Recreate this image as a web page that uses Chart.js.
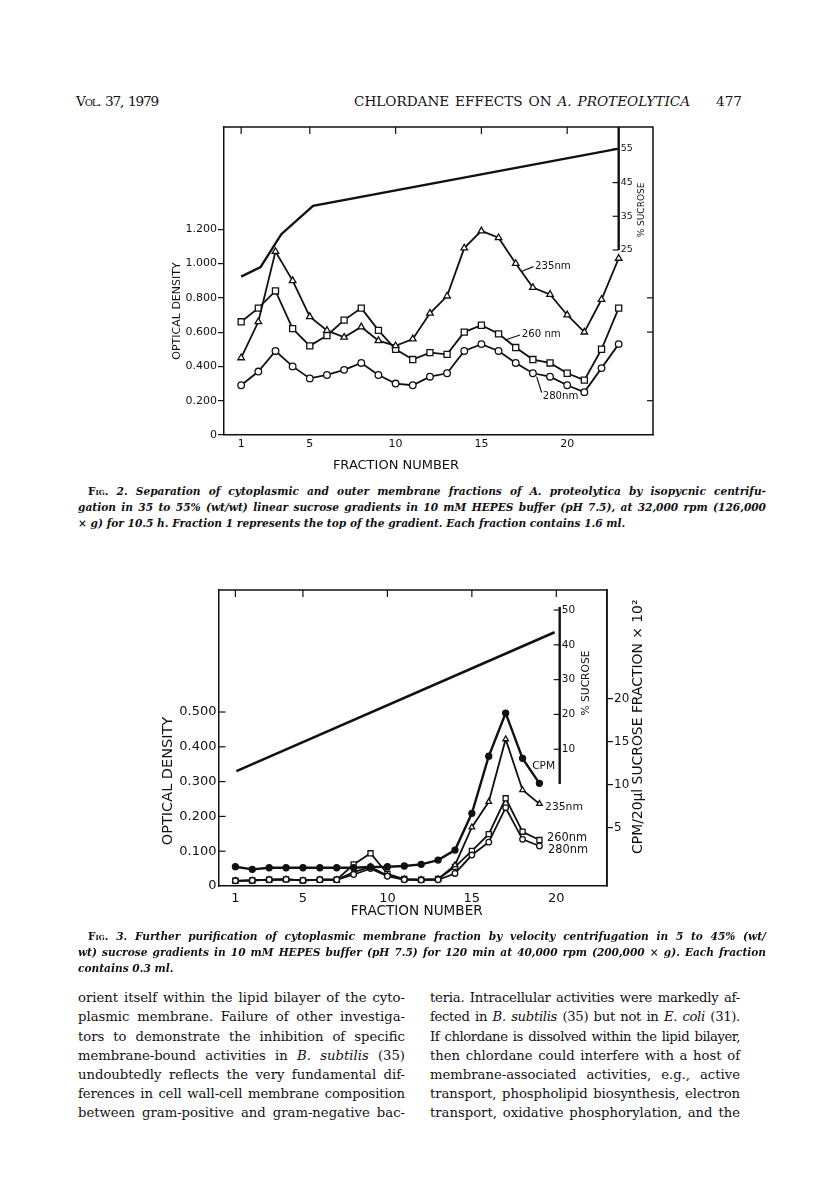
<!DOCTYPE html>
<html>
<head>
<meta charset="utf-8">
<script src="https://cdn.jsdelivr.net/npm/chart.js"></script>
<style>
html, body { margin: 0; padding: 0; background: #fff; }
body { width: 816px; height: 1195px; position: relative; overflow: hidden; color: #111; font-family: 'DejaVu Serif', serif; }
.ln { position: absolute; white-space: nowrap; }
.hd { font-size: 13.6px; line-height: 16px; }
.cap { font-size: 10.6px; line-height: 16px; font-style: italic; font-weight: bold; }
.txt { font-size: 13.2px; line-height: 19px; }
.sc { font-variant: small-caps; font-style: normal; }
canvas { position: absolute; }
#fig2 { left: 130px; top: 110px; }
#fig3 { left: 130px; top: 575px; }
</style>
</head>
<body>

<div class="ln hd fit" data-w="82" style="left:76px;top:93px"><span class="sc">Vol.</span> 37, 1979</div>
<div class="ln hd fit" data-w="336" style="left:354px;top:93px">CHLORDANE EFFECTS ON <i>A. PROTEOLYTICA</i></div>
<div class="ln hd" style="left:716px;top:93px">477</div>

<canvas id="fig2" width="560" height="370"></canvas>

<div class="ln cap fit" data-w="678" style="left:88px;top:483px"><span class="sc">Fig.</span> 2. Separation of cytoplasmic and outer membrane fractions of A. proteolytica by isopycnic centrifu-</div>
<div class="ln cap fit" data-w="688" style="left:78px;top:499px">gation in 35 to 55% (wt/wt) linear sucrose gradients in 10 mM HEPES buffer (pH 7.5), at 32,000 rpm (126,000</div>
<div class="ln cap" style="left:78px;top:515px">× g) for 10.5 h. Fraction 1 represents the top of the gradient. Each fraction contains 1.6 ml.</div>

<canvas id="fig3" width="560" height="355"></canvas>

<div class="ln cap fit" data-w="678" style="left:88px;top:928px"><span class="sc">Fig.</span> 3. Further purification of cytoplasmic membrane fraction by velocity centrifugation in 5 to 45% (wt/</div>
<div class="ln cap fit" data-w="688" style="left:78px;top:944px">wt) sucrose gradients in 10 mM HEPES buffer (pH 7.5) for 120 min at 40,000 rpm (200,000 × g). Each fraction</div>
<div class="ln cap" style="left:78px;top:960px">contains 0.3 ml.</div>

<div class="ln txt fit" data-w="327" style="left:78px;top:988px">orient itself within the lipid bilayer of the cyto-</div>
<div class="ln txt fit" data-w="327" style="left:78px;top:1007px">plasmic membrane. Failure of other investiga-</div>
<div class="ln txt fit" data-w="327" style="left:78px;top:1027px">tors to demonstrate the inhibition of specific</div>
<div class="ln txt fit" data-w="327" style="left:78px;top:1046px">membrane-bound activities in <i>B. subtilis</i> (35)</div>
<div class="ln txt fit" data-w="327" style="left:78px;top:1065px">undoubtedly reflects the very fundamental dif-</div>
<div class="ln txt fit" data-w="327" style="left:78px;top:1084px">ferences in cell wall-cell membrane composition</div>
<div class="ln txt fit" data-w="327" style="left:78px;top:1103px">between gram-positive and gram-negative bac-</div>

<div class="ln txt fit" data-w="310" style="left:430px;top:988px">teria. Intracellular activities were markedly af-</div>
<div class="ln txt fit" data-w="310" style="left:430px;top:1007px">fected in <i>B. subtilis</i> (35) but not in <i>E. coli</i> (31).</div>
<div class="ln txt fit" data-w="310" style="left:430px;top:1027px">If chlordane is dissolved within the lipid bilayer,</div>
<div class="ln txt fit" data-w="310" style="left:430px;top:1046px">then chlordane could interfere with a host of</div>
<div class="ln txt fit" data-w="310" style="left:430px;top:1065px">membrane-associated activities, e.g., active</div>
<div class="ln txt fit" data-w="310" style="left:430px;top:1084px">transport, phospholipid biosynthesis, electron</div>
<div class="ln txt fit" data-w="310" style="left:430px;top:1103px">transport, oxidative phosphorylation, and the</div>

<script>
// FIG. 2 - isopycnic gradient, fractions 1-23
const fractions2 = [1, 2, 3, 4, 5, 6, 7, 8, 9, 10, 11, 12, 13, 14, 15, 16, 17, 18, 19, 20, 21, 22, 23];
const od235a = [0.45, 0.66, 1.07, 0.90, 0.69, 0.61, 0.57, 0.63, 0.55, 0.52, 0.56, 0.71, 0.81, 1.09, 1.19, 1.15, 1.00, 0.86, 0.82, 0.70, 0.60, 0.79, 1.03];
const od260a = [0.66, 0.74, 0.84, 0.62, 0.52, 0.58, 0.67, 0.74, 0.61, 0.50, 0.44, 0.48, 0.47, 0.60, 0.64, 0.59, 0.51, 0.44, 0.42, 0.36, 0.32, 0.50, 0.74];
const od280a = [0.29, 0.37, 0.49, 0.40, 0.33, 0.35, 0.38, 0.42, 0.35, 0.30, 0.29, 0.34, 0.36, 0.49, 0.53, 0.49, 0.42, 0.36, 0.34, 0.29, 0.25, 0.39, 0.53];
const sucroseX2 = [1, 2.13, 3.34, 5.19, 22.93];
const sucroseY2 = [17.1, 19.9, 29.7, 38.1, 55];
const odTicks2 = [0, 0.2, 0.4, 0.6, 0.8, 1.0, 1.2];
const sucroseTicks2 = [25, 35, 45, 55];

// FIG. 3 - velocity gradient, fractions 1-19
const fractions3 = [1, 2, 3, 4, 5, 6, 7, 8, 9, 10, 11, 12, 13, 14, 15, 16, 17, 18, 19];
const cpm3 = [0.48, 0.17, 0.36, 0.36, 0.36, 0.36, 0.36, 0.36, 0.45, 0.48, 0.56, 0.75, 1.25, 2.41, 6.67, 13.3, 18.3, 13.05, 10.15];
const od235b = [0.015, 0.016, 0.018, 0.019, 0.016, 0.018, 0.018, 0.040, 0.055, 0.030, 0.020, 0.018, 0.020, 0.060, 0.169, 0.242, 0.422, 0.276, 0.236];
const od260b = [0.015, 0.016, 0.018, 0.019, 0.016, 0.018, 0.018, 0.062, 0.094, 0.035, 0.020, 0.018, 0.020, 0.055, 0.101, 0.149, 0.252, 0.156, 0.132];
const od280b = [0.015, 0.016, 0.018, 0.019, 0.016, 0.018, 0.018, 0.033, 0.050, 0.028, 0.018, 0.017, 0.018, 0.036, 0.089, 0.126, 0.225, 0.134, 0.115];
const sucroseX3 = [1.06, 19.9];
const sucroseY3 = [3.7, 43.6];
const odTicks3 = [0, 0.1, 0.2, 0.3, 0.4, 0.5];
const sucroseTicks3 = [10, 20, 30, 40, 50];
const cpmTicks3 = [5, 10, 15, 20];

const xTicks = [1, 5, 10, 15, 20];

const ink = '#111';
const sans = '"DejaVu Sans", sans-serif';

function pts(xs, ys) {
    return xs.map((x, i) => ({ x: x, y: ys[i] }));
}

function series(data, style, radius, extra) {
    return Object.assign({
        data: data,
        borderColor: ink,
        borderWidth: 1.8,
        pointStyle: style,
        pointRadius: radius,
        pointBorderColor: ink,
        pointBackgroundColor: '#fff',
        pointBorderWidth: 1.3,
        tension: 0
    }, extra || {});
}

function setTicks(list) {
    return s => { s.ticks = list.map(v => ({ value: v })); };
}

function odLabel(v) {
    return v === 0 ? '0' : v.toFixed(3);
}

// frame, inner ticks, sucrose axis, curve labels and axis titles
function extras(cfg) {
    return {
        id: 'extras',
        afterDatasetsDraw(chart) {
            const { ctx, chartArea: a, scales } = chart;
            const x = scales.x, y = scales.y, ys = scales.ys;
            const line = (x1, y1, x2, y2) => { ctx.beginPath(); ctx.moveTo(x1, y1); ctx.lineTo(x2, y2); ctx.stroke(); };
            ctx.save();
            ctx.strokeStyle = ink;
            ctx.fillStyle = ink;
            ctx.lineWidth = 1.5;
            ctx.beginPath();
            ctx.moveTo(a.left, a.top);
            ctx.lineTo(a.right, a.top);
            ctx.lineTo(a.right, a.bottom);
            ctx.stroke();

            ctx.lineWidth = 1.2;
            xTicks.forEach(v => { const px = x.getPixelForValue(v); line(px, a.top, px, a.top + 7); });
            (cfg.rightTicks || []).forEach(v => { const py = y.getPixelForValue(v); line(a.right - 6, py, a.right, py); });
            (cfg.leftTicks || []).forEach(v => { const py = y.getPixelForValue(v); line(a.left, py, a.left + 7, py); });

            const s = cfg.sucrose;
            const sx = x.getPixelForValue(s.at);
            ctx.lineWidth = 2.4;
            line(sx, ys.getPixelForValue(s.from), sx, Math.max(a.top, ys.getPixelForValue(s.to)));
            ctx.lineWidth = 1.2;
            ctx.font = s.size + 'px ' + sans;
            ctx.textAlign = 'left';
            ctx.textBaseline = 'middle';
            s.ticks.forEach(v => {
                const py = ys.getPixelForValue(v);
                line(sx - 6, py, sx, py);
                ctx.fillText(String(v), sx + 2, py);
            });

            (cfg.leaders || []).forEach(l => {
                line(x.getPixelForValue(l[0]), y.getPixelForValue(l[1]), x.getPixelForValue(l[2]), y.getPixelForValue(l[3]));
            });
            cfg.labels.forEach(l => {
                ctx.font = l.size + 'px ' + sans;
                ctx.fillText(l.text, x.getPixelForValue(l.x), y.getPixelForValue(l.y));
            });

            ctx.textAlign = 'center';
            cfg.titles.forEach(t => {
                ctx.save();
                ctx.translate(t.x - cfg.offset[0], t.y - cfg.offset[1]);
                ctx.rotate(t.rot || 0);
                ctx.font = t.size + 'px ' + sans;
                ctx.fillText(t.text, 0, 0);
                ctx.restore();
            });
            ctx.restore();
        }
    };
}

const tickFont = size => ({ family: sans, size: size });

// Fig. 2
new Chart(document.getElementById('fig2'), {
    type: 'line',
    data: {
        datasets: [
            series(pts(sucroseX2, sucroseY2), 'circle', 0, { yAxisID: 'ys', borderWidth: 2.4, order: 4 }),
            series(pts(fractions2, od280a), 'circle', 3.3, { order: 3 }),
            series(pts(fractions2, od260a), 'rect', 4.3, { order: 2 }),
            series(pts(fractions2, od235a), 'triangle', 3.8, { order: 1 })
        ]
    },
    options: {
        responsive: false,
        animation: false,
        layout: { padding: { top: 17, right: 37, left: 0, bottom: 0 } },
        plugins: { legend: { display: false }, tooltip: { enabled: false } },
        scales: {
            x: {
                type: 'linear', min: 0, max: 25,
                afterBuildTicks: setTicks(xTicks),
                afterFit: s => { s.height = 45; },
                grid: { drawOnChartArea: false, drawTicks: false },
                border: { color: ink, width: 1.5 },
                ticks: { color: ink, font: tickFont(11), padding: 3, maxRotation: 0, autoSkip: false }
            },
            y: {
                min: 0, max: 1.796,
                afterBuildTicks: setTicks(odTicks2),
                afterFit: s => { s.width = 94; },
                grid: { drawOnChartArea: false, tickLength: 6, color: ink, lineWidth: 1.2 },
                border: { color: ink, width: 1.5 },
                ticks: { color: ink, font: tickFont(11), padding: 1, callback: odLabel }
            },
            ys: { display: false, position: 'right', min: -29.9, max: 61.5 }
        }
    },
    plugins: [extras({
        offset: [130, 110],
        rightTicks: [0.2, 0.6, 0.8],
        sucrose: { at: 23, from: 25, to: 70, ticks: sucroseTicks2, size: 9.4 },
        leaders: [[17.29, 0.952, 18.03, 0.982], [16.38, 0.554, 17.25, 0.583], [18.22, 0.340, 18.51, 0.247]],
        labels: [
            { text: '235nm', x: 18.12, y: 0.985, size: 10.2 },
            { text: '260 nm', x: 17.35, y: 0.589, size: 10.2 },
            { text: '280nm', x: 18.57, y: 0.227, size: 10.2 }
        ],
        titles: [
            { text: 'OPTICAL DENSITY', x: 176.7, y: 311, rot: -Math.PI / 2, size: 11 },
            { text: 'FRACTION NUMBER', x: 396, y: 466, size: 13 },
            { text: '% SUCROSE', x: 641.7, y: 210, rot: -Math.PI / 2, size: 9 }
        ]
    })]
});

// Fig. 3
new Chart(document.getElementById('fig3'), {
    type: 'line',
    data: {
        datasets: [
            series(pts(sucroseX3, sucroseY3), 'circle', 0, { yAxisID: 'ys', borderWidth: 2.6, order: 6 }),
            series(pts(fractions3, od260b), 'rect', 3.6, { order: 5 }),
            series(pts(fractions3, od235b), 'triangle', 3.2, { order: 4 }),
            series(pts(fractions3, od280b), 'circle', 2.8, { order: 3 }),
            series(pts(fractions3, cpm3), 'circle', 3, { yAxisID: 'yc', borderWidth: 2.4, pointBackgroundColor: ink, order: 1 })
        ]
    },
    options: {
        responsive: false,
        animation: false,
        layout: { padding: { top: 15, right: 43, left: 0, bottom: 0 } },
        plugins: { legend: { display: false }, tooltip: { enabled: false } },
        scales: {
            x: {
                type: 'linear', min: 0, max: 23,
                afterBuildTicks: setTicks(xTicks),
                afterFit: s => { s.height = 44; },
                grid: { drawOnChartArea: false, drawTicks: false },
                border: { color: ink, width: 1.5 },
                ticks: { color: ink, font: tickFont(13), padding: 5, maxRotation: 0, autoSkip: false }
            },
            y: {
                min: 0, max: 0.8506,
                afterBuildTicks: setTicks(odTicks3),
                afterFit: s => { s.width = 88.5; },
                grid: { drawOnChartArea: false, drawTicks: false },
                border: { color: ink, width: 1.5 },
                ticks: { color: ink, font: tickFont(13), padding: 2, callback: odLabel }
            },
            ys: { display: false, position: 'right', min: -29.3, max: 55.76 },
            yc: {
                position: 'right', min: -1.76, max: 32.58,
                afterBuildTicks: setTicks(cpmTicks3),
                afterFit: s => { s.width = 40; },
                grid: { drawOnChartArea: false, tickLength: 6, color: ink, lineWidth: 1.2 },
                border: { color: ink, width: 1.5 },
                ticks: { color: ink, font: tickFont(12), padding: 1 }
            }
        }
    },
    plugins: [extras({
        offset: [130, 575],
        leftTicks: [0.1, 0.2, 0.3, 0.4, 0.5],
        sucrose: { at: 20.2, from: 0, to: 50.9, ticks: sucroseTicks3, size: 10.5 },
        labels: [
            { text: 'CPM', x: 18.57, y: 0.343, size: 10.6 },
            { text: '235nm', x: 19.33, y: 0.227, size: 10.8 },
            { text: '260nm', x: 19.45, y: 0.138, size: 11.4 },
            { text: '280nm', x: 19.51, y: 0.103, size: 11.4 }
        ],
        titles: [
            { text: 'OPTICAL DENSITY', x: 168, y: 781, rot: -Math.PI / 2, size: 14.5 },
            { text: 'FRACTION NUMBER', x: 416.7, y: 911.7, size: 13.6 },
            { text: '% SUCROSE', x: 586.7, y: 683, rot: -Math.PI / 2, size: 10.7 },
            { text: 'CPM/20\u00b5l SUCROSE FRACTION \u00d7 10\u00b2', x: 638, y: 726.7, rot: -Math.PI / 2, size: 13.9 }
        ]
    })]
});

// justify the printed lines to their measured widths, tightening letters where a line runs long
function fitLines() {
    document.querySelectorAll('.fit').forEach(el => {
        el.style.wordSpacing = '0px';
        el.style.letterSpacing = '0px';
        const target = parseFloat(el.dataset.w);
        const gaps = (el.textContent.match(/ /g) || []).length;
        const chars = el.textContent.length;
        let natural = el.getBoundingClientRect().width;
        const minGap = 1.5;
        if (natural + gaps * minGap > target) {
            el.style.letterSpacing = ((target - gaps * minGap - natural) / chars) + 'px';
            natural = el.getBoundingClientRect().width;
        }
        if (gaps) el.style.wordSpacing = ((target - natural) / gaps) + 'px';
    });
}
fitLines();
if (document.fonts) document.fonts.ready.then(fitLines);
</script>
</body>
</html>
